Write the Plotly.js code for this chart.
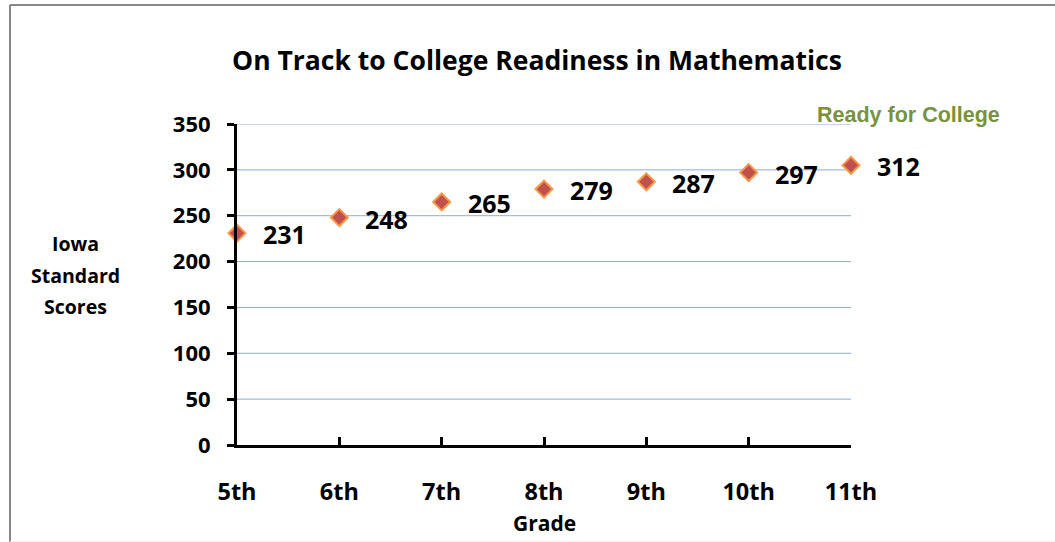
<!DOCTYPE html>
<html>
<head>
<meta charset="utf-8">
<script src="https://cdn.plot.ly/plotly-3.0.1.min.js"></script>
<style>
html,body{margin:0;padding:0;background:#fff;}
#chart{width:1055px;height:542px;}
</style>
</head>
<body>
<div id="chart"></div>
<script>
const grades = ["5th", "6th", "7th", "8th", "9th", "10th", "11th"];
const scores = [231, 248, 265, 279, 287, 297, 305];
const scoreLabels = ["231", "248", "265", "279", "287", "297", "312"];
const yTicks = [0, 50, 100, 150, 200, 250, 300, 350];
const yMax = 350;
const chartTitle = "On Track to College Readiness in Mathematics";
const yTitleLines = ["Iowa", "Standard", "Scores"];
const xTitle = "Grade";
const readyText = "Ready for College";

const FONT = "'Open Sans', sans-serif";
const GRID = "#8eaae2";

const trace = {
  type: "scatter",
  mode: "markers",
  x: grades,
  y: scores,
  marker: {
    symbol: "diamond",
    size: 13,
    color: "#c0504d",
    line: {color: "#f79646", width: 2}
  },
  hoverinfo: "skip",
  cliponaxis: false
};

const annotations = [];
grades.forEach((g, i) => {
  annotations.push({
    x: g, y: scores[i], xref: "x", yref: "y",
    text: scoreLabels[i], showarrow: false,
    xanchor: "left", yanchor: "middle", xshift: 24, yshift: -1,
    font: {family: FONT, size: 25, color: "#000", weight: 700}
  });
});
const yTitleY = [243, 275, 306];
yTitleLines.forEach((t, i) => {
  annotations.push({
    x: 75, y: 542 - yTitleY[i], xref: "paper", yref: "paper",
    text: t, showarrow: false, xanchor: "center", yanchor: "middle",
    font: {family: FONT, size: 19.5, color: "#000", weight: 700}
  });
});
annotations.push({
  x: 544, y: 542 - 523, xref: "paper", yref: "paper", text: xTitle, showarrow: false,
  xanchor: "center", yanchor: "middle",
  font: {family: FONT, size: 21, color: "#000", weight: 700}
});
annotations.push({
  x: 815, y: 542 - 115, xref: "paper", yref: "paper", text: readyText, showarrow: false,
  xanchor: "left", yanchor: "middle",
  font: {family: "'Liberation Sans', Arial, sans-serif", size: 21.5, color: "#77933c", weight: 700}
});

// convert pixel-positioned annotations (paper) to paper fractions
const L = 237, R = 204, T = 124, B = 97, W = 1055, H = 542;
const pw = W - L - R, ph = H - T - B;
annotations.forEach(a => {
  if (a.xref === "paper") {
    a.x = (a.x - L) / pw;
    a.y = (a.y - B) / ph;
  }
});

// gridlines as shapes positioned through the y axis
const gridShapes = yTicks.filter(v => v > 0).map(v => ({
  type: "line", xref: "paper", yref: "y", layer: "below",
  x0: 0, x1: 1, y0: v, y1: v,
  line: {color: GRID, width: 1}
}));

const layout = {
  width: W, height: H,
  margin: {l: L, r: R, t: T, b: B, pad: 0},
  paper_bgcolor: "#fff",
  plot_bgcolor: "#fff",
  showlegend: false,
  title: {
    text: chartTitle,
    x: 537 / W, xref: "container", xanchor: "center",
    y: 1 - 61 / H, yref: "container", yanchor: "middle",
    font: {family: FONT, size: 26.5, color: "#000", weight: 700}
  },
  xaxis: {
    type: "category",
    range: [0, grades.length - 1],
    showline: true, linecolor: "#000", linewidth: 3,
    ticks: "inside", ticklen: 8, tickwidth: 3, tickcolor: "#000",
    showgrid: false, zeroline: false,
    tickfont: {family: FONT, size: 23.5, color: "#000", weight: 700},
    ticklabelstandoff: 24,
    fixedrange: true
  },
  yaxis: {
    range: [0, yMax],
    tickvals: yTicks,
    showline: true, linecolor: "#000", linewidth: 3,
    ticks: "outside", ticklen: 7, tickwidth: 3, tickcolor: "#000",
    showgrid: false,
    zeroline: false,
    tickfont: {family: FONT, size: 22, color: "#000", weight: 700},
    ticklabelstandoff: 12,
    fixedrange: true
  },
  annotations: annotations,
  shapes: gridShapes.concat([
    {type: "line", xref: "paper", yref: "paper",
     x0: (10 - L) / pw, x1: (10 - L) / pw, y0: (0 - B) / ph, y1: (H - 5 - B) / ph,
     line: {color: "#888", width: 2}},
    {type: "line", xref: "paper", yref: "paper",
     x0: (10 - L) / pw, x1: (W - L) / pw, y0: (H - 5 - B) / ph, y1: (H - 5 - B) / ph,
     line: {color: "#888", width: 2}},
    {type: "line", xref: "paper", yref: "paper",
     x0: (10 - L) / pw, x1: (W - L) / pw, y0: (0.5 - B) / ph, y1: (0.5 - B) / ph,
     line: {color: "#eeeeee", width: 1}}
  ])
};

Plotly.newPlot("chart", [trace], layout, {displayModeBar: false, staticPlot: true});
</script>
</body>
</html>
